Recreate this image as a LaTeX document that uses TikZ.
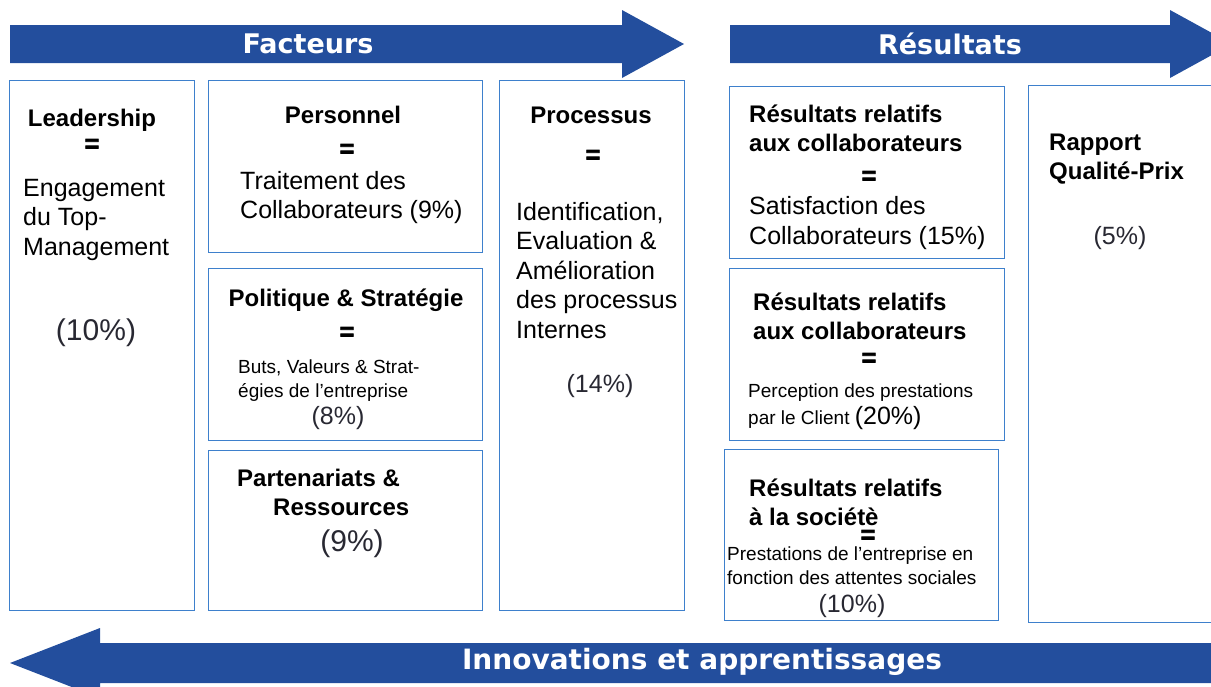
\documentclass[tikz,border=0pt]{standalone}
\usepackage{fontspec}
\setmainfont{Liberation Sans}
\newfontfamily\arrowfont{DejaVu Sans}
\newfontfamily\eqfont[FakeBold=2.5]{Liberation Sans Bold}
\usepackage{tikz}
\usetikzlibrary{positioning}

\definecolor{arrowblue}{RGB}{35,78,157}
\definecolor{boxblue}{RGB}{62,128,204}
\definecolor{pctgray}{RGB}{40,40,50}

\newcommand{\txtnormal}{\fontsize{25}{29.5}\selectfont}
\newcommand{\txtbold}{\fontsize{24}{29}\selectfont\bfseries}
\newcommand{\txtsmall}{\fontsize{19}{24}\selectfont}
\newcommand{\txtpct}{\fontsize{30}{34}\selectfont}

\tikzset{
  box/.style={draw=boxblue, line width=1.2pt, fill=white, anchor=north west, inner sep=0pt},
  titre/.style={font=\txtbold, inner sep=0pt, align=left, anchor=base west},
  egal/.style={font=\eqfont\fontsize{25}{29}\selectfont, inner sep=0pt, anchor=base},
  texte/.style={font=\txtnormal, inner sep=0pt, align=left, anchor=base west},
  petit/.style={font=\txtsmall, inner sep=0pt, align=left, anchor=base west},
  pct/.style={font=\txtpct, text=pctgray, inner sep=0pt, anchor=base},
  fleche/.style={font=\arrowfont\fontsize{27}{30}\selectfont\bfseries, text=white, inner sep=0pt}
}

\begin{document}
\begin{tikzpicture}[x=1pt,y=-1pt]
\useasboundingbox (0,0) rectangle (1211,686);

% arrows
\fill[arrowblue] (10,25) -- (622,25) -- (622,10) -- (684,44) -- (622,78) -- (622,63) -- (10,63) -- cycle;
\fill[arrowblue] (730,25) -- (1170,25) -- (1170,10) -- (1232,44) -- (1170,78) -- (1170,63) -- (730,63) -- cycle;
\fill[arrowblue] (1211,643) -- (100,643) -- (100,628) -- (10,663) -- (100,698) -- (100,683) -- (1211,683) -- cycle;
\node[fleche] (facteurs) at (308,44) {Facteurs};
\node[fleche] (resultats) at (950,44) {Résultats};
\node[fleche, font=\arrowfont\fontsize{28}{30}\selectfont\bfseries] (innov) at (702,662) {Innovations et apprentissages};

% boxes
\node[box, minimum width=185pt, minimum height=530pt] (lead) at (9,80) {};
\node[box, minimum width=274pt, minimum height=172pt] (pers) at (208,80) {};
\node[box, minimum width=274pt, minimum height=172pt] (poli) at (208,268) {};
\node[box, minimum width=274pt, minimum height=160pt] (part) at (208,450) {};
\node[box, minimum width=185pt, minimum height=530pt] (proc) at (499,80) {};
\node[box, minimum width=275pt, minimum height=172pt] (res1) at (729,86) {};
\node[box, minimum width=275pt, minimum height=172pt] (res2) at (729,268) {};
\node[box, minimum width=274pt, minimum height=171pt] (res3) at (724,449) {};
\node[box, minimum width=190pt, minimum height=537pt] (qual) at (1028,85) {};

% Leadership
\node[titre, anchor=base] (leadT) at (92,126) {Leadership};
\node[egal] (leadE) at (92,152) {=};
\node[texte] (leadD) at (23,255) {Engagement\\du Top-\\Management};
\node[pct] (leadP) at (96,340) {(10\%)};

% Personnel
\node[titre, anchor=base] (persT) at (343,123) {Personnel};
\node[egal] (persE) at (347,157) {=};
\node[texte] (persD) at (240,218.5) {Traitement des\\Collaborateurs (9\%)};

% Politique
\node[titre, anchor=base] (poliT) at (346,306) {Politique \& Stratégie};
\node[egal] (poliE) at (347,340) {=};
\node[petit] (poliD) at (238,397) {Buts, Valeurs \& Strat-\\égies de l’entreprise};
\node[pct, font=\txtnormal] (poliP) at (338,424) {(8\%)};

% Partenariats
\node[titre] (partT) at (237,515) {Partenariats \&\\\hspace*{36pt}Ressources};
\node[pct] (partP) at (352,551) {(9\%)};

% Processus
\node[titre, anchor=base] (procT) at (591,123) {Processus};
\node[egal] (procE) at (593,163) {=};
\node[texte] (procD) at (516,338) {Identification,\\Evaluation \&\\Amélioration\\des processus\\Internes};
\node[pct, font=\txtnormal] (procP) at (600,392) {(14\%)};

% Resultats collaborateurs
\node[titre] (res1T) at (749,151) {Résultats relatifs\\aux collaborateurs};
\node[egal] (res1E) at (869,184) {=};
\node[texte, font=\fontsize{25}{30}\selectfont] (res1D) at (749,244) {Satisfaction des\\Collaborateurs (15\%)};

% Resultats clients
\node[titre] (res2T) at (753,339) {Résultats relatifs\\aux collaborateurs};
\node[egal] (res2E) at (869,366) {=};
\node[petit, font=\fontsize{19}{27}\selectfont] (res2D) at (748,424) {Perception des prestations\\par le Client {\txtnormal(20\%)}};

% Resultats societe
\node[titre] (res3T) at (749,525) {Résultats relatifs\\à la sociétè};
\node[egal] (res3E) at (868,543) {=};
\node[petit] (res3D) at (727,584) {Prestations de l’entreprise en\\fonction des attentes sociales};
\node[pct, font=\txtnormal] (res3P) at (852,612) {(10\%)};

% Rapport qualite-prix
\node[titre] (qualT) at (1049,179) {Rapport\\Qualité-Prix};
\node[pct, font=\txtnormal] (qualP) at (1120,244) {(5\%)};
\end{tikzpicture}
\end{document}
